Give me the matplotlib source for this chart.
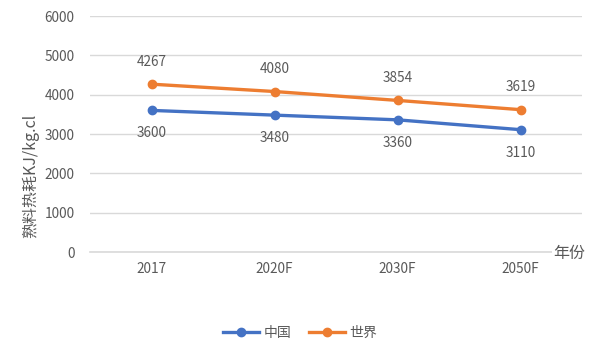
import matplotlib
matplotlib.use("Agg")
import matplotlib.pyplot as plt

plt.rcParams['font.family'] = ['Noto Sans CJK SC', 'DejaVu Sans']

categories = ["2017", "2020F", "2030F", "2050F"]
china = [3600, 3480, 3360, 3110]
world = [4267, 4080, 3854, 3619]
yticks = [0, 1000, 2000, 3000, 4000, 5000, 6000]

blue = "#4472C4"
orange = "#ED7D31"
grey = "#595959"

fig = plt.figure(figsize=(6, 3.6), dpi=100)
ax = fig.add_axes([0.15, 0.3, 0.82, 1 - 16/360 - 0.3])
x = list(range(len(categories)))

ax.plot(x, china, color=blue, lw=2.4, marker='o', ms=6, label="中国", zorder=3)
ax.plot(x, world, color=orange, lw=2.4, marker='o', ms=6, label="世界", zorder=3)

for xi, v in zip(x, china):
    ax.annotate(str(v), (xi, v), xytext=(0, -16.5), textcoords='offset points',
                ha='center', va='center', fontsize=9.8, color=grey)
for xi, v in zip(x, world):
    ax.annotate(str(v), (xi, v), xytext=(0, 16), textcoords='offset points',
                ha='center', va='center', fontsize=9.8, color=grey)

ax.set_xlim(-0.5, 3.5)
ax.set_ylim(0, 6000)
ax.set_yticks(yticks)
ax.set_xticks(x)
ax.set_xticklabels(categories)
ax.tick_params(axis='both', length=0, labelsize=9.8, labelcolor=grey)
ax.tick_params(axis='y', pad=11)
ax.tick_params(axis='x', pad=7)
ax.grid(axis='y', color='#D9D9D9', lw=1)
ax.axhline(0, color='#D9D9D9', lw=1.2, clip_on=False, zorder=1)
ax.set_axisbelow(True)
for s in ax.spines.values():
    s.set_visible(False)

fig.text(30/600, 1 - 176/360, "熟料热耗KJ/kg.cl", rotation=90, ha='center', va='center',
         fontsize=11.5, color=grey)
fig.text(569/600, 1 - 253/360, "年份", ha='center', va='center', fontsize=11.5, color=grey,
         bbox=dict(facecolor='white', edgecolor='none', pad=1), zorder=5)

fig.legend(loc='center', bbox_to_anchor=(0.5, 1 - 333/360), ncol=2, frameon=False,
           fontsize=10, labelcolor=grey, handlelength=2.6, columnspacing=1.3, handletextpad=0.3)

fig.savefig("out.png", dpi=100, facecolor='white')
